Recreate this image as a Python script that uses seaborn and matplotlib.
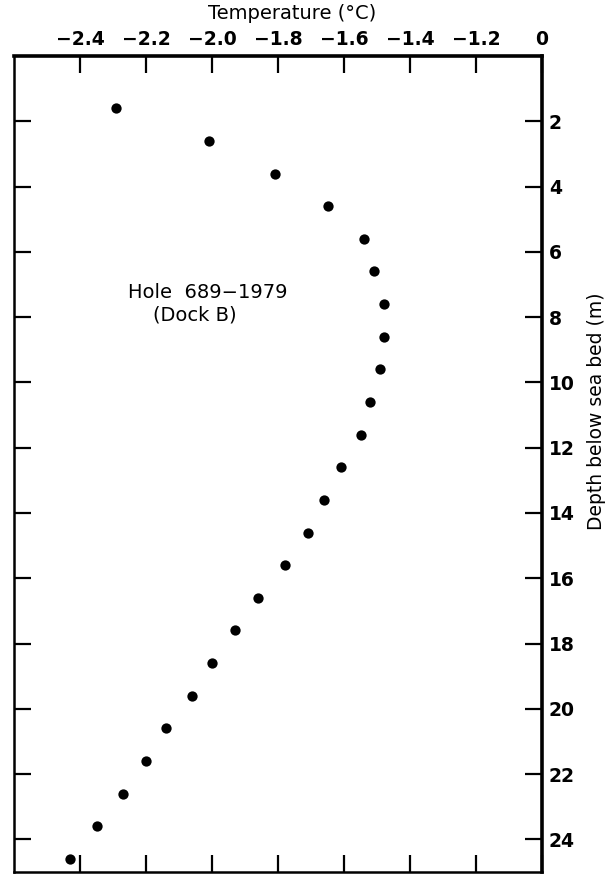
"""
Temperature profile of hole 689-1979 (Dock B)
"""
import pandas as pd
import matplotlib
matplotlib.use("Agg")
import matplotlib.pyplot as plt
import seaborn as sns

# depth below sea bed (m)
depth = [1.6, 2.6, 3.6, 4.6, 5.6, 6.6, 7.6, 8.6, 9.6, 10.6, 11.6, 12.6,
         13.6, 14.6, 15.6, 16.6, 17.6, 18.6, 19.6, 20.6, 21.6, 22.6, 23.6, 24.6]

# temperature (deg C)
temperature = [-2.29, -2.01, -1.81, -1.65, -1.54, -1.51, -1.48, -1.48,
               -1.49, -1.52, -1.55, -1.61, -1.66, -1.71, -1.78, -1.86,
               -1.93, -2.00, -2.06, -2.14, -2.20, -2.27, -2.35, -2.43]

# tick positions and labels (the right edge is labelled 0 in the original)
x_ticks = [-2.4, -2.2, -2.0, -1.8, -1.6, -1.4, -1.2, -1.0]
x_tick_labels = ["\u22122.4", "\u22122.2", "\u22122.0", "\u22121.8",
                 "\u22121.6", "\u22121.4", "\u22121.2", "0"]
y_ticks = [2, 4, 6, 8, 10, 12, 14, 16, 18, 20, 22, 24]

if __name__ == "__main__":
    df = pd.DataFrame({"temperature": temperature, "depth": depth})

    sns.set_style("ticks")
    plt.rcParams["font.family"] = ["DejaVu Sans"]
    plt.rcParams["text.color"] = "black"
    plt.rcParams["axes.labelcolor"] = "black"

    fig = plt.figure(figsize=(6.09, 8.74), dpi=100)
    ax = fig.add_axes([14 / 609, 2 / 874, 528 / 609, 816 / 874])

    sns.scatterplot(data=df, x="temperature", y="depth", ax=ax,
                    color="black", s=55, edgecolor="black", linewidth=0)

    ax.set_xlim(-2.6, -1.0)
    ax.set_ylim(25, 0)

    # x axis on top, y axis on the right
    ax.xaxis.set_label_position("top")
    ax.tick_params(axis="x", bottom=True, top=True, labelbottom=False, labeltop=True)
    ax.yaxis.set_label_position("right")
    ax.tick_params(axis="y", left=True, right=True, labelleft=False, labelright=True)

    ax.set_xticks(x_ticks)
    ax.set_xticklabels(x_tick_labels)
    ax.set_yticks(y_ticks)

    ax.tick_params(direction="in", length=12, width=1.6, colors="black",
                   labelsize=13.5, pad=5)
    for lab in ax.get_xticklabels() + ax.get_yticklabels():
        lab.set_fontweight("bold")

    for side in ["top", "right", "left", "bottom"]:
        ax.spines[side].set_visible(True)
        ax.spines[side].set_color("black")
    ax.spines["top"].set_linewidth(2.6)
    ax.spines["right"].set_linewidth(2.6)
    ax.spines["left"].set_linewidth(1.8)
    ax.spines["bottom"].set_linewidth(1.8)

    ax.set_xlabel("Temperature (\u00b0C)", fontsize=14)
    ax.xaxis.set_label_coords(0.527, 1.045)
    ax.set_ylabel("Depth below sea bed (m)", fontsize=13.5)
    ax.yaxis.set_label_coords(1.085, 0.565)

    ax.text(-2.255, 7.25, "Hole  689\u22121979", fontsize=14, va="center")
    ax.text(-2.18, 7.95, "(Dock B)", fontsize=14, va="center")

    ax.grid(False)
    fig.savefig("out.png", dpi=100)
